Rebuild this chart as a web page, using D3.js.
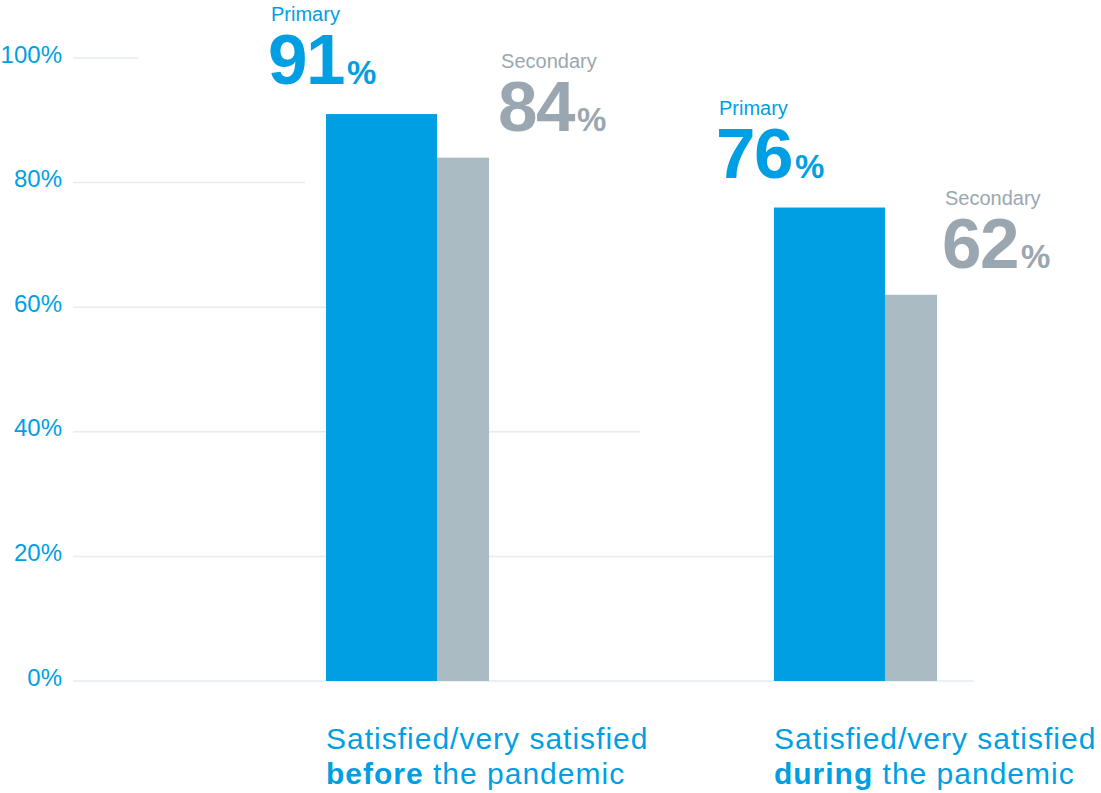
<!DOCTYPE html>
<html>
<head>
<meta charset="utf-8">
<script src="https://cdn.jsdelivr.net/npm/d3@7"></script>
<style>
  body { margin: 0; background: #fff; }
  #chart-container svg { display: block; }
  text { font-family: "Liberation Sans", Arial, sans-serif; }
</style>
</head>
<body>
<div id="chart-container"></div>
<script>
// data
const groups = ["before", "during"]
const groupLine1 = ["Satisfied/very satisfied", "Satisfied/very satisfied"]
const groupBold = ["before", "during"]
const groupRest = [" the pandemic", " the pandemic"]
const seriesNames = ["Primary", "Secondary"]
const primaryValues = [91, 76]
const secondaryValues = [84, 62]
const yTicks = [0, 20, 40, 60, 80, 100]

const w = 1101, h = 793
const blue = '#009fe3', greyBar = '#abbbc3', greyText = '#9ba7b0', gridColor = '#e5ebf0'

// gridline right ends (design quirk: each line stops at a different place)
const gridRight = [974, 774, 640, 326, 305, 138]

const svg = d3.select('#chart-container')
  .append('svg')
  .attr('width', w)
  .attr('height', h)

const yScale = d3.scaleLinear()
  .domain([0, 100])
  .range([681, 58])

const xScale = d3.scaleBand()
  .domain(groups)
  .range([326, 937])
  .paddingInner(0.636)
  .paddingOuter(0)

const bw = xScale.bandwidth()
const primW = bw * 0.681

// gridlines
svg.append('g')
  .selectAll('line')
  .data(yTicks)
  .enter()
  .append('line')
  .attr('x1', 73)
  .attr('x2', (d, i) => gridRight[i])
  .attr('y1', d => yScale(d))
  .attr('y2', d => yScale(d))
  .attr('stroke', gridColor)
  .attr('stroke-width', 1.5)

// y axis labels
const yAxis = d3.axisLeft(yScale)
  .tickValues(yTicks)
  .tickSize(0)
  .tickPadding(0)
  .tickFormat(d => d + '%')

const yg = svg.append('g')
  .attr('transform', 'translate(62, 0)')
  .call(yAxis)
yg.select('.domain').remove()
yg.selectAll('text')
  .attr('fill', blue)
  .attr('font-size', 24)
  .style('font-family', '"Liberation Sans", Arial, sans-serif')
  .attr('dy', '0.17em')

const rows = groups.map((g, i) => ({ g, p: primaryValues[i], s: secondaryValues[i], i }))

// bars
svg.selectAll('rect.primary')
  .data(rows)
  .enter()
  .append('rect')
  .attr('class', 'primary')
  .attr('x', d => xScale(d.g))
  .attr('y', d => yScale(d.p))
  .attr('width', primW)
  .attr('height', d => yScale(0) - yScale(d.p))
  .attr('fill', blue)

svg.selectAll('rect.secondary')
  .data(rows)
  .enter()
  .append('rect')
  .attr('class', 'secondary')
  .attr('x', d => xScale(d.g) + primW)
  .attr('y', d => yScale(d.s))
  .attr('width', bw - primW)
  .attr('height', d => yScale(0) - yScale(d.s))
  .attr('fill', greyBar)

// value labels
const addLabel = (x, yBase, name, val, color) => {
  svg.append('text')
    .attr('x', x + 1)
    .attr('y', yBase - 63)
    .attr('fill', color)
    .attr('font-size', 20)
    .text(name)
  const t = svg.append('text')
    .attr('x', x - 2)
    .attr('y', yBase)
    .attr('fill', color)
    .attr('font-weight', 'bold')
  t.append('tspan')
    .attr('font-size', 71)
    .attr('letter-spacing', -1.5)
    .text(val)
  t.append('tspan')
    .attr('font-size', 33)
    .attr('dx', 3)
    .text('%')
}

rows.forEach(d => {
  addLabel(xScale(d.g) - 56, yScale(d.p) - 30, seriesNames[0], d.p, blue)
  addLabel(xScale(d.g) + bw + (d.i === 0 ? 11 : 7), yScale(d.s) - 27, seriesNames[1], d.s, greyText)
})

// category labels
rows.forEach(d => {
  const x = xScale(d.g)
  svg.append('text')
    .attr('x', x)
    .attr('y', 749)
    .attr('fill', blue)
    .attr('font-size', 30)
    .attr('letter-spacing', 1)
    .text(groupLine1[d.i])
  const t2 = svg.append('text')
    .attr('x', x)
    .attr('y', 784)
    .attr('fill', blue)
    .attr('font-size', 30)
    .attr('letter-spacing', 1)
  t2.append('tspan').attr('font-weight', 'bold').text(groupBold[d.i])
  t2.append('tspan').text(groupRest[d.i])
})
</script>
</body>
</html>
